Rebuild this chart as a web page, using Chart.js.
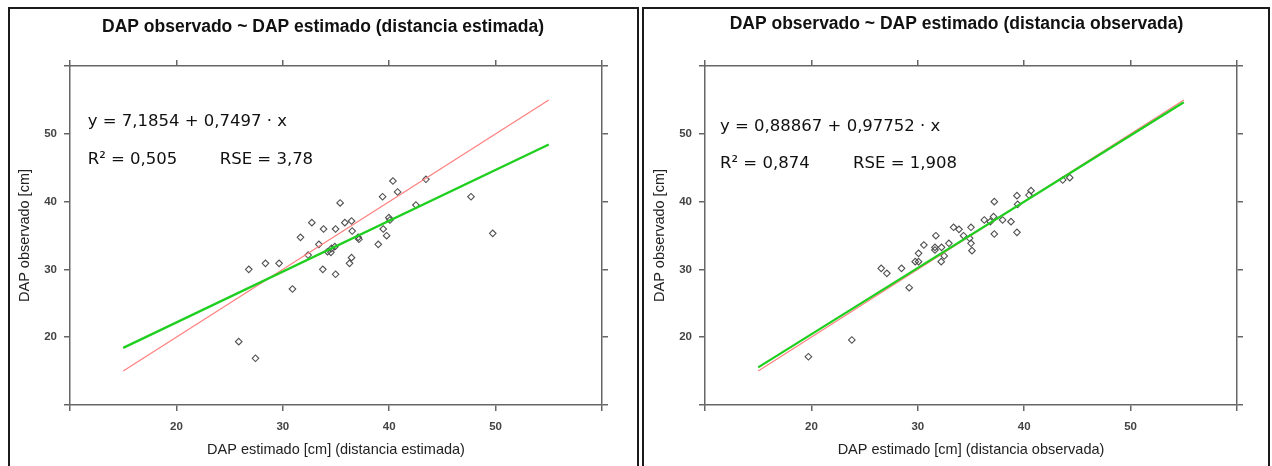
<!DOCTYPE html>
<html><head><meta charset="utf-8">
<script src="https://cdn.jsdelivr.net/npm/chart.js@4.4.0/dist/chart.umd.min.js"></script>
<style>
html,body{margin:0;padding:0;background:#fff;width:1272px;height:466px;overflow:hidden;}
.panel{position:absolute;box-sizing:border-box;border:2px solid #1b1b1b;border-bottom:none;}
.wrap{position:absolute;}
</style></head><body>
<div class="panel" style="left:8px;top:7px;width:631px;height:459px;"></div>
<div class="panel" style="left:642px;top:7px;width:628px;height:459px;"></div>
<div class="wrap" style="left:10px;top:9px;width:626px;height:457px;"><canvas id="c1"></canvas></div>
<div class="wrap" style="left:645px;top:9px;width:623px;height:457px;"><canvas id="c2"></canvas></div>
<script>
// ---- data ----
const tickValues = [10, 20, 30, 40, 50, 60];
const tickLabels = ['', '20', '30', '40', '50', ''];
const lineX = [15, 55];

// Left panel: DAP estimado (distancia estimada) vs DAP observado
const leftEstX = [25.86, 27.43, 26.80, 28.37, 29.65, 30.91, 31.66, 32.38, 32.73, 33.39,
  33.76, 33.83, 34.96, 34.96, 34.20, 34.58, 34.52, 34.89, 35.39, 35.83,
  36.46, 36.52, 36.46, 36.27, 37.08, 37.15, 38.97, 39.38, 39.44, 39.76,
  39.97, 40.07, 40.35, 40.79, 42.51, 43.45, 47.69, 49.73];
const leftObsY = [19.34, 16.89, 30.01, 30.90, 30.90, 27.11, 34.73, 32.12, 36.89, 33.70,
  30.01, 35.96, 35.96, 29.28, 32.61, 33.11, 32.52, 33.35, 39.80, 36.89,
  37.14, 35.66, 31.73, 30.90, 34.73, 34.44, 33.70, 40.72, 35.96, 34.97,
  37.63, 37.29, 43.04, 41.42, 39.50, 43.29, 40.72, 35.32];
const leftIdentityY = [15, 55];
const leftFitY = [18.43, 48.42];

// Right panel: DAP estimado (distancia observada) vs DAP observado
const rightEstX = [19.72, 23.80, 26.56, 27.09, 28.47, 29.19, 29.76, 30.07, 30.07, 30.57,
  31.70, 31.61, 31.61, 32.23, 32.48, 32.20, 32.92, 33.36, 33.87, 34.30,
  34.87, 35.00, 35.00, 35.09, 36.25, 36.81, 37.19, 37.12, 37.19, 37.97,
  38.76, 39.32, 39.32, 39.38, 40.45, 40.64, 43.62, 44.28];
const rightObsY = [17.12, 19.59, 30.16, 29.42, 30.16, 27.30, 31.14, 31.14, 32.37, 33.60,
  34.97, 32.86, 33.26, 33.26, 31.98, 31.14, 33.85, 36.21, 35.91, 34.97,
  34.59, 36.21, 33.85, 32.76, 37.29, 37.04, 39.99, 37.78, 35.22, 37.29,
  37.04, 35.47, 40.87, 39.60, 40.97, 41.61, 43.19, 43.53];
const rightIdentityY = [15, 55];
const rightFitY = [15.55, 54.65];

// ---- drawing ----
const annotPlugin = {
  id: 'annot',
  afterDatasetsDraw(chart, args, opts) {
    const { ctx, scales } = chart;
    ctx.save();
    ctx.font = '16.5px "DejaVu Sans"';
    ctx.fillStyle = '#111';
    ctx.textBaseline = 'middle';
    ctx.textAlign = 'left';
    (opts.items || []).forEach(it => {
      ctx.fillText(it.text, scales.x.getPixelForValue(it.x), scales.y.getPixelForValue(it.y));
    });
    ctx.restore();
  }
};

const frameColor = '#666';
const tickFont = { family: 'Liberation Sans', size: 11.5, weight: 'bold' };
const axisTitleFont = { family: 'Liberation Sans', size: 14.5 };

function pairs(xs, ys) { return xs.map((v, i) => ({ x: v, y: ys[i] })); }

function makeChart(id, cfg) {
  const common = {
    type: 'linear', min: 10, max: 60,
    afterBuildTicks: s => { s.ticks = tickValues.map(v => ({ value: v })); },
    border: { display: true, color: frameColor, width: 1.5 },
    grid: { drawOnChartArea: false, drawTicks: true, tickLength: 6, color: frameColor, lineWidth: 1.5 },
  };
  new Chart(document.getElementById(id), {
    type: 'scatter',
    data: {
      datasets: [
        { label: 'fit', type: 'line', data: pairs(lineX, cfg.fitY), borderColor: '#1fcf1f', borderWidth: 2.3,
          pointRadius: 0, fill: false, order: 0 },
        { label: '1:1', type: 'line', data: pairs(lineX, cfg.identY), borderColor: '#ff7f7f', borderWidth: 1.2,
          pointRadius: 0, fill: false, order: 1 },
        { label: 'obs', data: pairs(cfg.xs, cfg.ys), pointStyle: 'rectRot', pointRadius: 3.3, pointBorderWidth: 1.1,
          borderColor: '#505050', backgroundColor: 'rgba(0,0,0,0)', order: 2 }
      ]
    },
    options: {
      responsive: true, maintainAspectRatio: false, animation: false,
      layout: { padding: 0 },
      plugins: {
        legend: { display: false }, tooltip: { enabled: false },
        title: { display: true, text: cfg.title, color: '#111',
          font: { family: 'Liberation Sans', size: 17.5, weight: 'bold', lineHeight: 1.2 },
          padding: { top: cfg.titlePad, bottom: 0 } },
        annot: { items: cfg.annot }
      },
      scales: {
        x: Object.assign({}, common, {
          position: 'bottom',
          ticks: { font: tickFont, color: '#444', padding: 9, maxRotation: 0, autoSkip: false,
            callback: (v, i) => tickLabels[i] },
          title: { display: true, text: cfg.xTitle, font: axisTitleFont, color: '#222', padding: { top: 0, bottom: 6.9 } },
          afterFit: s => { s.height = 61; }
        }),
        x2: Object.assign({}, common, {
          axis: 'x', position: 'top',
          ticks: { display: false },
          afterFit: s => { s.height = cfg.topH; }
        }),
        y: Object.assign({}, common, {
          position: 'left',
          ticks: { font: tickFont, color: '#444', padding: 7, autoSkip: false,
            callback: (v, i) => tickLabels[i] },
          title: { display: true, text: 'DAP observado [cm]', font: axisTitleFont, color: '#222', padding: { top: 6.6, bottom: 0 } },
          afterFit: s => { s.width = 60; }
        }),
        y2: Object.assign({}, common, {
          axis: 'y', position: 'right',
          ticks: { display: false },
          afterFit: s => { s.width = cfg.rightW; }
        })
      }
    },
    plugins: [annotPlugin]
  });
}

makeChart('c1', {
  title: 'DAP observado ~ DAP estimado (distancia estimada)',
  xTitle: 'DAP estimado [cm] (distancia estimada)',
  xs: leftEstX, ys: leftObsY, identY: leftIdentityY, fitY: leftFitY,
  titlePad: 7.5, topH: 28.5, rightW: 34,
  annot: [
    { text: 'y = 7,1854 + 0,7497 · x', x: 11.66, y: 51.74 },
    { text: 'R² = 0,505', x: 11.66, y: 46.14 },
    { text: 'RSE = 3,78', x: 24.07, y: 46.14 }
  ]
});

makeChart('c2', {
  title: 'DAP observado ~ DAP estimado (distancia observada)',
  xTitle: 'DAP estimado [cm] (distancia observada)',
  xs: rightEstX, ys: rightObsY, identY: rightIdentityY, fitY: rightFitY,
  titlePad: 4.5, topH: 31.5, rightW: 31,
  annot: [
    { text: 'y = 0,88867 + 0,97752 · x', x: 11.41, y: 51.05 },
    { text: 'R² = 0,874', x: 11.41, y: 45.65 },
    { text: 'RSE = 1,908', x: 23.92, y: 45.65 }
  ]
});
</script>
</body></html>
